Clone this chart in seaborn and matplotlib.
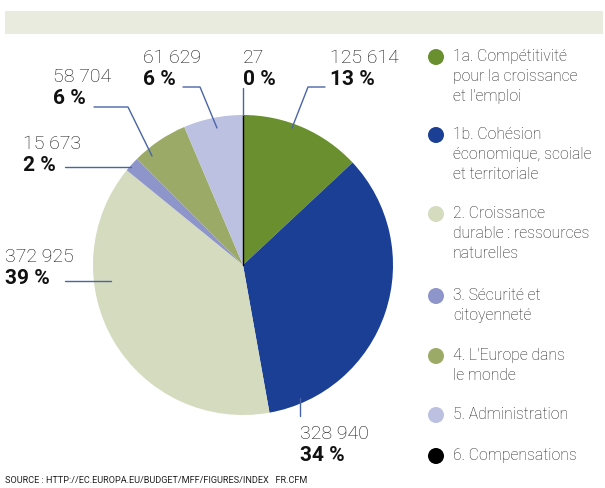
import matplotlib
matplotlib.use("Agg")
import matplotlib.pyplot as plt
import seaborn as sns
from matplotlib.patches import Rectangle, Circle

sns.set_theme(style="white")
plt.rcParams['font.family'] = ['Roboto', 'DejaVu Sans']

categories = [
    "1a. Compétitivité\npour la croissance\net l'emploi",
    "1b. Cohésion\néconomique, scoiale\net territoriale",
    "2. Croissance\ndurable : ressources\nnaturelles",
    "3. Sécurité et\ncitoyenneté",
    "4. L'Europe dans\nle monde",
    "5. Administration",
    "6. Compensations",
]
values = [125614, 328940, 372925, 15673, 58704, 61629, 27]
value_labels = ["125 614", "328 940", "372 925", "15 673", "58 704", "61 629", "27"]
pct_labels = ["13 %", "34 %", "39 %", "2 %", "6 %", "6 %", "0 %"]
colors = ["#6a8f2f", "#1a3f94", "#d5dbbf", "#8d95cb", "#9bab67", "#bcc0e1", "#000000"]

W, H = 605, 488
fig = plt.figure(figsize=(W / 100, H / 100), dpi=100)
ax = fig.add_axes([0, 0, 1, 1])

def Y(y):
    return H - y

# header band
ax.add_patch(Rectangle((5, Y(34)), 598, 23, facecolor="#e8ebdd", edgecolor="none"))

# pie
cx, cy, r = 243, 265, 150
wedges, _ = ax.pie(values, colors=colors, startangle=90, counterclock=False,
                   center=(cx, Y(cy)), radius=r, frame=True,
                   wedgeprops=dict(linewidth=0))
ax.set_xlim(0, W)
ax.set_ylim(0, H)
ax.set_aspect("equal")
ax.axis("off")
# thin black line for the tiny slice
ax.plot([cx, cx], [Y(cy), Y(cy - r)], color="black", lw=1.0, zorder=3)

lc = "#4a64a8"
# label positions: (x, y_number_top)
label_pos = [(330, 49), (300, 425), (5, 248), (23, 135), (53, 68), (143, 49), (243, 49)]
for (x, yt), v, p in zip(label_pos, value_labels, pct_labels):
    ax.text(x, Y(yt), v, fontsize=14, fontweight="light", color="#111111",
            ha="left", va="top")
    ax.text(x, Y(yt + 21), p, fontsize=15, fontweight="bold", color="#111111",
            ha="left", va="top")

leaders = [
    [(325, 87), (308, 87), (292, 128)],
    [(300, 398), (300, 416)],
    [(65, 281), (111, 281)],
    [(65, 167), (131, 167)],
    [(94, 107), (128, 107), (152, 156)],
    [(183, 87), (200, 87), (217, 128)],
]
for seg in leaders:
    ax.plot([p[0] for p in seg], [Y(p[1]) for p in seg], color=lc, lw=1.0, zorder=4)
ax.plot([243, 243], [Y(88), Y(115)], color=lc, lw=1.0, zorder=4)

# legend
leg_y = [57, 135, 214, 296, 356, 415, 456]
for c, lab, yy in zip(colors, categories, leg_y):
    ax.add_patch(Circle((436, Y(yy)), 8, facecolor=c, edgecolor="none"))
    ax.text(453, Y(yy - 8), lab, fontsize=11.3, fontweight="light", color="#222222",
            ha="left", va="top", linespacing=1.42)

ax.text(5, Y(483), "SOURCE : HTTP://EC.EUROPA.EU/BUDGET/MFF/FIGURES/INDEX   FR.CFM",
        fontsize=6.6, color="#222222", ha="left", va="baseline")

fig.savefig("out.png", dpi=100)
